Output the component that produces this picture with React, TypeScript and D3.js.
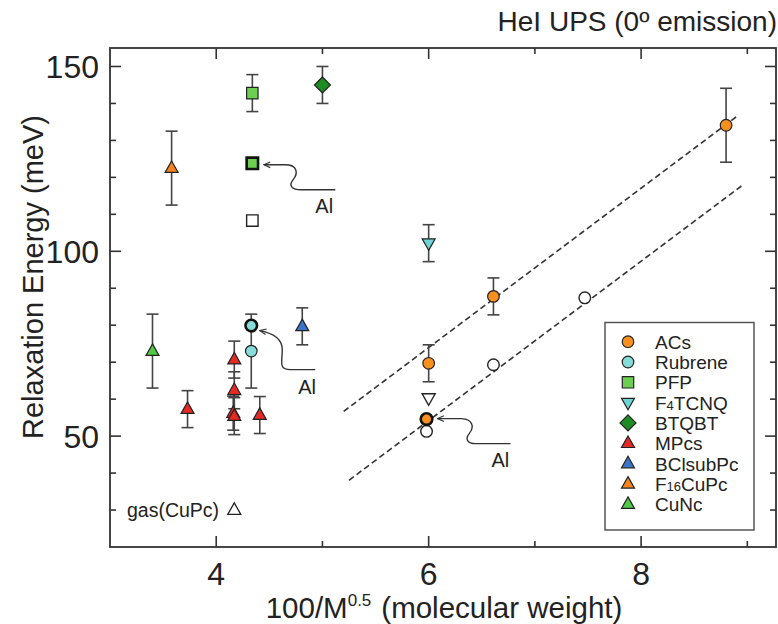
import React from 'react';
import * as d3 from 'd3';

const W = 778;
const H = 624;
const PLOT = { left: 110, right: 776, top: 48, bottom: 547 };

const xDomain = [3, 9.27];
const yDomain = [20, 155];
const xMajorTicks = [4, 6, 8];
const xMinorTicks = [5, 7, 9];
const yMajorTicks = [50, 100, 150];
const yMinorTicks = [30, 40, 60, 70, 80, 90, 110, 120, 130, 140];

// ---- data ----
const acsX = [6.0, 6.61, 8.8];
const acsY = [69.7, 87.8, 134.1];
const acsErr = [5, 5, 10];

const rubreneX = [4.33];
const rubreneY = [73.0];
const rubreneErr = [10];

const pfpX = [4.34];
const pfpY = [142.8];
const pfpErr = [5];

const f4tcnqX = [6.0];
const f4tcnqY = [102.2];
const f4tcnqErr = [5];

const btqbtX = [5.0];
const btqbtY = [145];
const btqbtErr = [5];

const mpcsX = [3.73, 4.17, 4.17, 4.16, 4.17, 4.41];
const mpcsY = [57.3, 70.7, 62.4, 56.2, 55.4, 55.7];
const mpcsErr = [5, 5, 5, 4.6, 5, 5];

const bclsubpcX = [4.81];
const bclsubpcY = [79.7];
const bclsubpcErr = [5];

const f16cupcX = [3.58];
const f16cupcY = [122.5];
const f16cupcErr = [10];

const cuncX = [3.4];
const cuncY = [73.0];
const cuncErr = [10];

// Al-covered samples (thick outline)
const alSeries = ['ACs', 'Rubrene', 'PFP'];
const alX = [5.98, 4.33, 4.34];
const alY = [54.6, 79.9, 123.8];

// open (unfilled) markers
const openCircleX = [5.98, 6.61, 7.47];
const openCircleY = [51.3, 69.3, 87.4];
const openSquareX = [4.34];
const openSquareY = [108.3];
const openDownX = [6.0];
const openDownY = [60.3];
const gasX = [4.17];
const gasY = [30];

// dashed fit lines
const fitUpperX = [5.2, 8.92];
const fitUpperY = [56.7, 136.9];
const fitLowerX = [5.25, 8.96];
const fitLowerY = [38.05, 118.0];

const seriesNames = ['ACs', 'Rubrene', 'PFP', 'F4TCNQ', 'BTQBT', 'MPcs', 'BClsubPc', 'F16CuPc', 'CuNc'];
const seriesColors = ['#f7901e', '#86dcd8', '#6ccf52', '#6fd3d6', '#1e8c22', '#e52a26', '#3b74c4', '#f5841f', '#4fc845'];
const seriesShapes = ['circle', 'circle', 'square', 'down', 'diamond', 'up', 'up', 'up', 'up'];

const seriesData = [
  [acsX, acsY, acsErr],
  [rubreneX, rubreneY, rubreneErr],
  [pfpX, pfpY, pfpErr],
  [f4tcnqX, f4tcnqY, f4tcnqErr],
  [btqbtX, btqbtY, btqbtErr],
  [mpcsX, mpcsY, mpcsErr],
  [bclsubpcX, bclsubpcY, bclsubpcErr],
  [f16cupcX, f16cupcY, f16cupcErr],
  [cuncX, cuncY, cuncErr],
];

const FONT = '"Liberation Sans", Arial, Helvetica, sans-serif';
const AXIS = '#333';

function shapePath(shape: string): string {
  switch (shape) {
    case 'circle': {
      const r = 5.8;
      return `M${r},0A${r},${r} 0 1,1 ${-r},0A${r},${r} 0 1,1 ${r},0Z`;
    }
    case 'square':
      return 'M-5.7,-5.7H5.7V5.7H-5.7Z';
    case 'diamond':
      return 'M0,-8L8,0L0,8L-8,0Z';
    case 'up':
      return 'M0,-7.2L6.5,4.3L-6.5,4.3Z';
    case 'down':
      return 'M0,7.2L6.5,-4.3L-6.5,-4.3Z';
    default:
      return '';
  }
}

function Marker({ x, y, shape, fill, stroke = '#222', sw = 1.2 }: any) {
  return <path d={shapePath(shape)} transform={`translate(${x},${y})`} fill={fill} stroke={stroke} strokeWidth={sw} />;
}

// annotation path offsets (relative to the Al point, px)
const annPaths = [
  { path: 'M11,-0.5H35C46,0 48,8 43,14C38,20 41,24.5 49,24.5H84', lx: 65, ly: 48 },
  { path: 'M8.5,5C19,7 31,12 31,24C31,36 27,44 39,44H64', lx: 47, ly: 68 },
  { path: 'M11.5,1.5H33C45,1.5 46,10 41,16C36,22 39,26.5 49,26.5H83', lx: 63, ly: 49.5 },
];

export default function App() {
  const x = d3.scaleLinear().domain(xDomain).range([PLOT.left, PLOT.right]);
  const y = d3.scaleLinear().domain(yDomain).range([PLOT.bottom, PLOT.top]);
  const lineGen = (xs: number[], ys: number[]) =>
    d3.line<[number, number]>().x((d) => x(d[0])).y((d) => y(d[1]))(xs.map((v, i) => [v, ys[i]]));

  const majorLen = 11;
  const minorLen = 6;

  const legendX = 605, legendY = 322.5, legendW = 149, legendH = 207.5;
  const rowY0 = 341.7, rowStep = 20.3;

  return (
    <svg width={W} height={H} style={{ position: 'absolute', left: 0, top: 0, background: '#fff' }} fontFamily={FONT}>
      <defs>
        <marker id="arr" viewBox="0 0 10 10" refX={9} refY={5} markerWidth={8} markerHeight={8}
          markerUnits="userSpaceOnUse" orient="auto-start-reverse">
          <path d="M1,1.5L9,5L1,8.5" fill="none" stroke="#333" strokeWidth={1.4} />
        </marker>
      </defs>

      {/* title */}
      <text x={777} y={31} textAnchor="end" fontSize={28} fill="#222">HeI UPS (0º emission)</text>

      {/* frame */}
      <rect x={PLOT.left} y={PLOT.top} width={PLOT.right - PLOT.left} height={PLOT.bottom - PLOT.top}
        fill="none" stroke={AXIS} strokeWidth={1.8} />

      {/* x ticks bottom & top */}
      {xMajorTicks.concat(xMinorTicks).map((t) => {
        const len = xMajorTicks.includes(t) ? majorLen : minorLen;
        return (
          <g key={'xt' + t} stroke={AXIS} strokeWidth={1.6}>
            <line x1={x(t)} x2={x(t)} y1={PLOT.bottom} y2={PLOT.bottom - len} />
            <line x1={x(t)} x2={x(t)} y1={PLOT.top} y2={PLOT.top + len} />
          </g>
        );
      })}
      {xMajorTicks.map((t) => (
        <text key={'xl' + t} x={x(t)} y={585} textAnchor="middle" fontSize={32} fill="#222">{t}</text>
      ))}

      {/* y ticks left & right */}
      {yMajorTicks.concat(yMinorTicks).map((t) => {
        const len = yMajorTicks.includes(t) ? majorLen : minorLen;
        return (
          <g key={'yt' + t} stroke={AXIS} strokeWidth={1.6}>
            <line x1={PLOT.left} x2={PLOT.left + len} y1={y(t)} y2={y(t)} />
            <line x1={PLOT.right} x2={PLOT.right - len} y1={y(t)} y2={y(t)} />
          </g>
        );
      })}
      {yMajorTicks.map((t) => (
        <text key={'yl' + t} x={99} y={y(t) + 11.5} textAnchor="end" fontSize={32} fill="#222">{t}</text>
      ))}

      {/* axis labels */}
      <text x={444} y={618} textAnchor="middle" fontSize={29.5} fill="#222">
        100/M<tspan fontSize={17} dy={-12}>0.5</tspan><tspan dy={12} dx={10}>(molecular weight)</tspan>
      </text>
      <text transform={`translate(43,277) rotate(-90)`} textAnchor="middle" fontSize={29} fill="#222">
        Relaxation Energy (meV)
      </text>

      {/* dashed fit lines */}
      <path d={lineGen(fitUpperX, fitUpperY) || ''} fill="none" stroke="#333" strokeWidth={1.6} strokeDasharray="6,3.5" />
      <path d={lineGen(fitLowerX, fitLowerY) || ''} fill="none" stroke="#333" strokeWidth={1.6} strokeDasharray="6,3.5" />

      {/* error bars */}
      {seriesData.map(([xs, ys, es], si) =>
        xs.map((xv, i) => {
          const cx = x(xv);
          const y1 = y(ys[i] + es[i]);
          const y2 = y(ys[i] - es[i]);
          return (
            <g key={`eb${si}-${i}`} stroke="#444" strokeWidth={1.6}>
              <line x1={cx} x2={cx} y1={y1} y2={y2} />
              <line x1={cx - 6} x2={cx + 6} y1={y1} y2={y1} />
              <line x1={cx - 6} x2={cx + 6} y1={y2} y2={y2} />
            </g>
          );
        })
      )}

      {/* open markers */}
      {openCircleX.map((v, i) => (
        <Marker key={'oc' + i} x={x(v)} y={y(openCircleY[i])} shape="circle" fill="#fff" sw={1.4} />
      ))}
      {openSquareX.map((v, i) => (
        <Marker key={'os' + i} x={x(v)} y={y(openSquareY[i])} shape="square" fill="#fff" sw={1.4} />
      ))}
      {openDownX.map((v, i) => (
        <Marker key={'od' + i} x={x(v)} y={y(openDownY[i])} shape="down" fill="#fff" sw={1.4} />
      ))}

      {/* filled series markers */}
      {seriesData.map(([xs, ys], si) =>
        xs.map((xv, i) => (
          <Marker key={`m${si}-${i}`} x={x(xv)} y={y(ys[i])} shape={seriesShapes[si]} fill={seriesColors[si]} />
        ))
      )}

      {/* Al samples */}
      {alSeries.map((name, i) => {
        const si = seriesNames.indexOf(name);
        const px = x(alX[i]);
        const py = y(alY[i]);
        const a = annPaths[i];
        return (
          <g key={'al' + i}>
            <Marker x={px} y={py} shape={seriesShapes[si]} fill={seriesColors[si]} stroke="#111" sw={2.6} />
            <path d={a.path} transform={`translate(${px},${py})`} fill="none" stroke="#333" strokeWidth={1.4}
              markerStart="url(#arr)" />
            <text x={px + a.lx} y={py + a.ly} fontSize={20} fill="#222">Al</text>
          </g>
        );
      })}

      {/* gas phase */}
      <text x={127} y={y(gasY[0]) + 7} fontSize={19.5} fill="#222">gas(CuPc)</text>
      {gasX.map((v, i) => (
        <Marker key={'g' + i} x={x(v)} y={y(gasY[i])} shape="up" fill="#fff" sw={1.3} />
      ))}

      {/* legend */}
      <rect x={legendX} y={legendY} width={legendW} height={legendH} fill="#fff" stroke="#555" strokeWidth={1.5} />
      {seriesNames.map((name, i) => {
        const ry = rowY0 + i * rowStep;
        let label: any = name;
        if (name === 'F4TCNQ') {
          label = (<>F<tspan fontSize={13}>4</tspan>TCNQ</>);
        } else if (name === 'F16CuPc') {
          label = (<>F<tspan fontSize={13}>16</tspan>CuPc</>);
        }
        return (
          <g key={'lg' + i}>
            <Marker x={628} y={ry} shape={seriesShapes[i]} fill={seriesColors[i]} />
            <text x={655} y={ry + 7} fontSize={19} fill="#222">{label}</text>
          </g>
        );
      })}
    </svg>
  );
}
